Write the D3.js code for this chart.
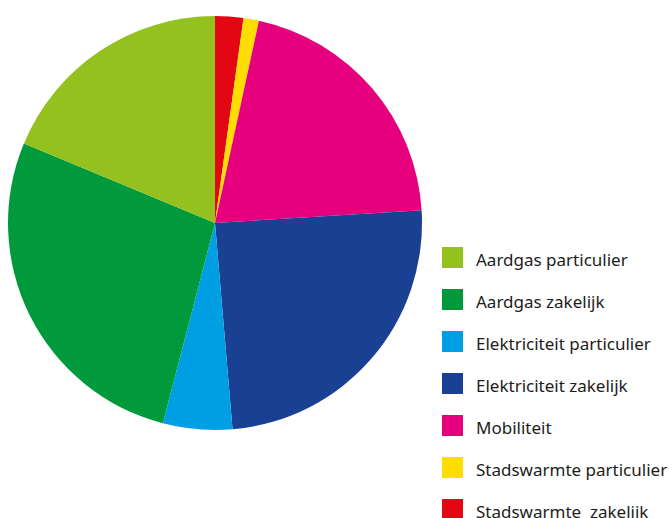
<!DOCTYPE html>
<html lang="nl">
<head>
<meta charset="UTF-8">
<title>Energieverbruik</title>
<script src="https://d3js.org/d3.v7.min.js"></script>
<style>
  body { margin: 0; background: #fff; }
  svg { display: block; }
  .legend text { font-family: 'Noto Sans', sans-serif; font-size: 17px; fill: #1d1d1b; white-space: pre; }
</style>
</head>
<body>
<svg id="chart" width="669" height="518"></svg>
<script>
  // categories in legend order
  const categories = [
    "Aardgas particulier",
    "Aardgas zakelijk",
    "Elektriciteit particulier",
    "Elektriciteit zakelijk",
    "Mobiliteit",
    "Stadswarmte particulier",
    "Stadswarmte  zakelijk"
  ];
  // share in percent
  const shares = [18.7, 27.2, 5.4, 24.6, 20.6, 1.2, 2.2];
  const colors = ["#95c11f", "#009a3d", "#009fe3", "#1a4094", "#e6007e", "#ffdd00", "#e30613"];

  const data = categories.map((c, i) => ({ name: c, value: shares[i], color: colors[i] }));

  const svg = d3.select("#chart");
  const cx = 215, cy = 223, r = 207;

  // drawn clockwise from 12 o'clock, last legend item first
  const pie = d3.pie()
    .value(d => d.value)
    .sort(null);
  const arcs = pie(data.slice().reverse());
  const arc = d3.arc().innerRadius(0).outerRadius(r);

  svg.append("g")
    .attr("transform", `translate(${cx},${cy})`)
    .selectAll("path")
    .data(arcs)
    .enter().append("path")
    .attr("d", arc)
    .attr("fill", d => d.data.color);

  // legend
  const y = d3.scaleBand().domain(categories).range([247, 541]).paddingInner(0);
  const legend = svg.append("g").attr("class", "legend");
  const row = legend.selectAll("g").data(data).enter().append("g")
    .attr("transform", d => `translate(442,${y(d.name)})`);
  row.append("rect").attr("width", 21).attr("height", 21).attr("fill", d => d.color);
  row.append("text").attr("x", 34).attr("y", 18.5).text(d => d.name);
</script>
</body>
</html>
